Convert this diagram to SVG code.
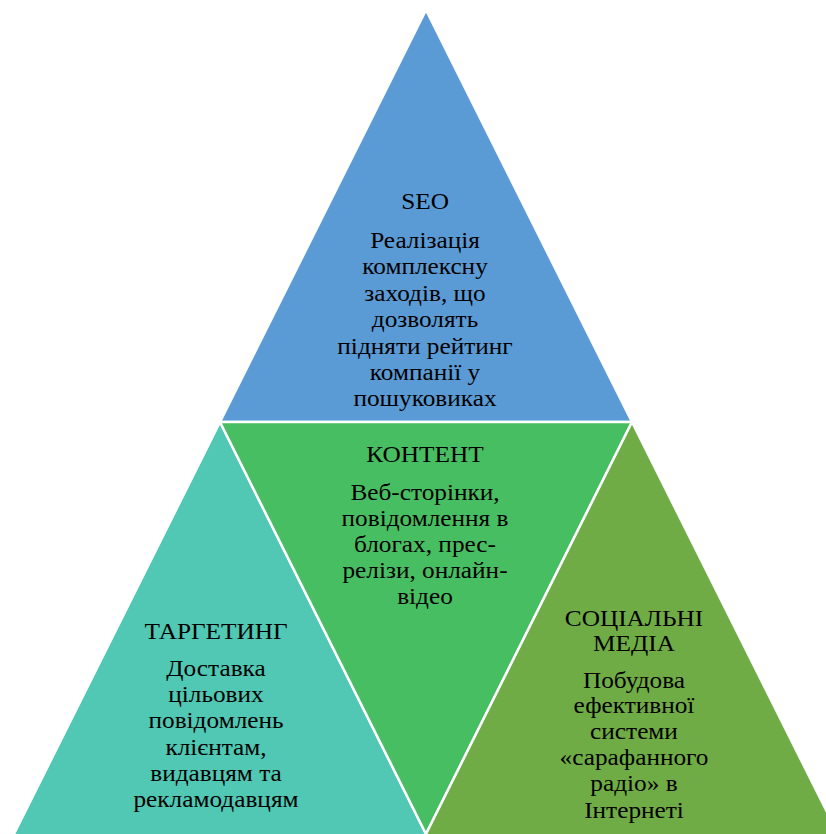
<svg xmlns="http://www.w3.org/2000/svg" width="826" height="834" viewBox="0 0 826 834">
<style>
.tri{stroke:#fff;stroke-width:2.5;stroke-linejoin:miter}
.t{font-family:"Liberation Serif","Times New Roman",serif;font-size:23px;fill:#000;text-anchor:middle}
</style>
<rect width="826" height="834" fill="#fff"/>
<g id="seo">
<polygon class="tri" points="426,10 220,422 632,422" fill="#5B9BD5"/>
<g transform="translate(425,0) scale(1.1,1)">
<text class="t" x="0" y="209">SEO</text>
<text class="t" x="0" y="248">Реалізація</text>
<text class="t" x="0" y="274">комплексну</text>
<text class="t" x="0" y="301">заходів, що</text>
<text class="t" x="0" y="327">дозволять</text>
<text class="t" x="0" y="354">підняти рейтинг</text>
<text class="t" x="0" y="380">компанії у</text>
<text class="t" x="0" y="406">пошуковиках</text>
</g>
</g>
<g id="targeting">
<polygon class="tri" points="220,422 8,846 432,846" fill="#50C8B4"/>
<g transform="translate(216,0) scale(1.1,1)">
<text class="t" x="0" y="639">ТАРГЕТИНГ</text>
<text class="t" x="0" y="676">Доставка</text>
<text class="t" x="0" y="702">цільових</text>
<text class="t" x="0" y="728">повідомлень</text>
<text class="t" x="0" y="755">клієнтам,</text>
<text class="t" x="0" y="781">видавцям та</text>
<text class="t" x="0" y="807">рекламодавцям</text>
</g>
</g>
<g id="content">
<polygon class="tri" points="220,422 632,422 426,834" fill="#48BE62"/>
<g transform="translate(425,0) scale(1.1,1)">
<text class="t" x="0" y="462">КОНТЕНТ</text>
<text class="t" x="0" y="500">Веб-сторінки,</text>
<text class="t" x="0" y="526">повідомлення в</text>
<text class="t" x="0" y="552">блогах, прес-</text>
<text class="t" x="0" y="578">релізи, онлайн-</text>
<text class="t" x="0" y="604">відео</text>
</g>
</g>
<g id="social">
<polygon class="tri" points="632,422 420,846 844,846" fill="#6FAC46"/>
<g transform="translate(634,0) scale(1.1,1)">
<text class="t" x="0" y="626">СОЦІАЛЬНІ</text>
<text class="t" x="0" y="651">МЕДІА</text>
<text class="t" x="0" y="688">Побудова</text>
<text class="t" x="0" y="713">ефективної</text>
<text class="t" x="0" y="739">системи</text>
<text class="t" x="0" y="765">«сарафанного</text>
<text class="t" x="0" y="791">радіо» в</text>
<text class="t" x="0" y="818">Інтернеті</text>
</g>
</g>
<g id="connectors"></g>
</svg>
